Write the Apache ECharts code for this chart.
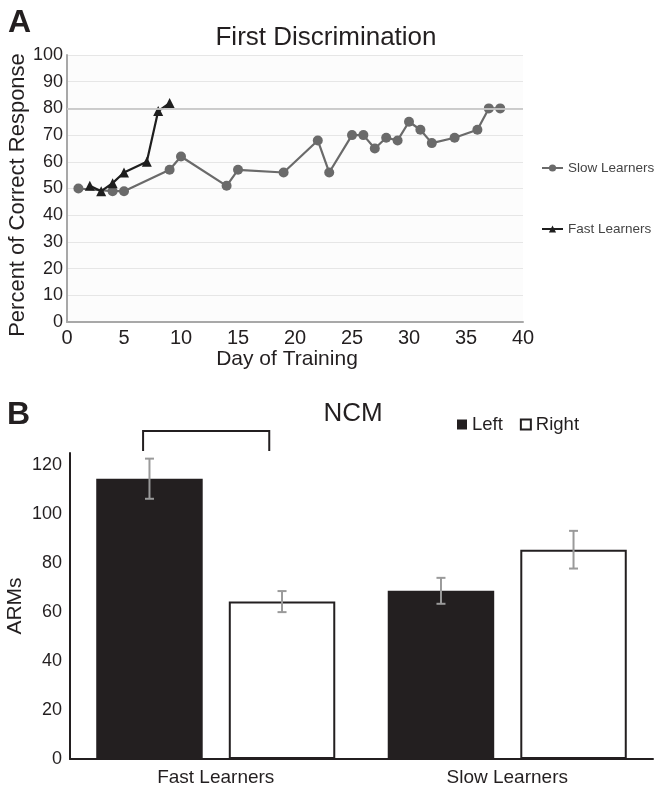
<!DOCTYPE html>
<html>
<head>
<meta charset="UTF-8">
<title>First Discrimination / NCM</title>
<script src="https://cdn.jsdelivr.net/npm/echarts@6/dist/echarts.min.js"></script>
<style>
  html, body { margin: 0; padding: 0; background: #fff; }
  #main { width: 658px; height: 791px; }
</style>
</head>
<body>
<div id="main"></div>
<script>
// panel A: percent correct per training day
var slowDays = [1, 4, 5, 9, 10, 14, 15, 19, 22, 23, 25, 26, 27, 28, 29, 30, 31, 32, 34, 36, 37, 38];
var slowPct  = [50, 49, 49, 57, 62, 51, 57, 56, 68, 56, 70, 70, 65, 69, 68, 75, 72, 67, 69, 72, 80, 80];
var fastDays = [2, 3, 4, 5, 7, 8, 9];
var fastPct  = [51, 49, 52, 56, 60, 79, 82];
var criterion = 80;

// panel B: NCM ARMs, mean and error
var groups    = ['Fast Learners', 'Slow Learners'];
var leftMean  = [114.5, 68.7];
var leftErr   = [8.2, 5.3];
var rightMean = [64.3, 85.5];
var rightErr  = [4.3, 7.7];

var FONT = '"Liberation Sans", Arial, sans-serif';
var CAT_GAP = 0.18, BAR_GAP = 0.245;

function pairs(xs, ys) {
  var out = [];
  for (var i = 0; i < xs.length; i++) out.push([xs[i], ys[i]]);
  return out;
}

// error bar data: [category, low, high, side(-1 left / +1 right)]
var errData = [];
for (var i = 0; i < groups.length; i++) {
  errData.push([i, leftMean[i] - leftErr[i], leftMean[i] + leftErr[i], -1]);
  errData.push([i, rightMean[i] - rightErr[i], rightMean[i] + rightErr[i], 1]);
}

function barGeom(api) {
  var band = api.size([1, 0])[0];
  var bw = band * (1 - CAT_GAP) / (2 + BAR_GAP);
  return { bw: bw, off: bw * (1 + BAR_GAP) / 2 };
}

var myChart = echarts.init(document.getElementById('main'));
myChart.setOption({
  animation: false,
  textStyle: { fontFamily: FONT },
  title: [
    { text: 'A', left: 3, top: 2, textStyle: { fontSize: 32, fontWeight: 'bold', color: '#231f20', fontFamily: FONT } },
    { text: 'First Discrimination', left: 321, textAlign: 'center', top: 20, textStyle: { fontSize: 26, fontWeight: 'normal', color: '#231f20', fontFamily: FONT } },
    { text: 'B', left: 2, top: 394, textStyle: { fontSize: 32, fontWeight: 'bold', color: '#231f20', fontFamily: FONT } },
    { text: 'NCM', left: 348, textAlign: 'center', top: 396, textStyle: { fontSize: 26, fontWeight: 'normal', color: '#231f20', fontFamily: FONT } }
  ],
  legend: [
    {
      data: ['Slow Learners', 'Fast Learners'],
      orient: 'vertical', left: 541, top: 161, itemGap: 47, padding: 0,
      itemWidth: 21, itemHeight: 9,
      textStyle: { fontSize: 13.5, color: '#444', fontFamily: FONT }
    },
    {
      data: [{ name: 'Left', icon: 'rect' }, { name: 'Right', icon: 'rect' }],
      left: 457, top: 415, itemGap: 17, padding: 0,
      itemWidth: 10, itemHeight: 10,
      textStyle: { fontSize: 18.5, color: '#231f20', fontFamily: FONT }
    }
  ],
  grid: [
    { left: 67, right: 135, top: 55, bottom: 469, show: true, backgroundColor: '#fcfcfc', borderWidth: 0, outerBoundsMode: 'none', containLabel: false },
    { left: 70, right: 5, top: 453, bottom: 32, outerBoundsMode: 'none', containLabel: false }
  ],
  xAxis: [
    {
      gridIndex: 0, type: 'value', min: 0, max: 40, interval: 5,
      name: 'Day of Training', nameLocation: 'middle', nameGap: 24,
      nameTextStyle: { fontSize: 21, color: '#231f20', fontFamily: FONT, padding: [0, 16, 0, 0] },
      axisLine: { lineStyle: { color: '#a8a8a8', width: 2 } },
      axisTick: { show: false },
      axisLabel: { fontSize: 20, color: '#231f20', margin: 6 },
      splitLine: { show: false }
    },
    {
      gridIndex: 1, type: 'category', data: groups,
      axisLine: { lineStyle: { color: '#231f20', width: 2 } },
      axisTick: { show: false },
      axisLabel: { fontSize: 19, color: '#231f20', margin: 9 }
    }
  ],
  yAxis: [
    {
      gridIndex: 0, type: 'value', min: 0, max: 100, interval: 10,
      name: 'Percent of Correct Response', nameLocation: 'middle', nameGap: 38, nameMoveOverlap: false,
      nameTextStyle: { fontSize: 22, color: '#231f20', fontFamily: FONT, padding: [0, 13, 0, 0] },
      axisLine: { show: true, lineStyle: { color: '#a8a8a8', width: 2 } },
      axisTick: { show: false },
      axisLabel: { fontSize: 18, color: '#231f20', margin: 4 },
      splitLine: { lineStyle: { color: '#e6e6e6', width: 1 } }
    },
    {
      gridIndex: 1, type: 'value', min: 0, max: 125, interval: 20,
      name: 'ARMs', nameLocation: 'middle', nameGap: 44, nameMoveOverlap: false,
      nameTextStyle: { fontSize: 21, color: '#231f20', fontFamily: FONT },
      axisLine: { show: true, lineStyle: { color: '#231f20', width: 2 } },
      axisTick: { show: false },
      axisLabel: { fontSize: 18, color: '#231f20', margin: 8, showMaxLabel: false },
      splitLine: { show: false }
    }
  ],
  series: [
    {
      name: 'Slow Learners', type: 'line', xAxisIndex: 0, yAxisIndex: 0,
      data: pairs(slowDays, slowPct),
      symbol: 'circle', symbolSize: 10,
      lineStyle: { color: '#6a6a6a', width: 2.2 },
      itemStyle: { color: '#6a6a6a' },
      z: 3
    },
    {
      name: 'Fast Learners', type: 'line', xAxisIndex: 0, yAxisIndex: 0,
      data: pairs(fastDays, fastPct),
      symbol: 'triangle', symbolSize: 10,
      lineStyle: { color: '#1e1e1e', width: 2.2 },
      itemStyle: { color: '#1e1e1e' },
      z: 4
    },
    {
      // criterion line drawn over the markers
      name: 'criterion', type: 'line', xAxisIndex: 0, yAxisIndex: 0,
      data: [], z: 10, silent: true,
      markLine: {
        silent: true, symbol: 'none', label: { show: false },
        lineStyle: { color: '#c8c8c8', width: 2, type: 'solid', opacity: 0.9 },
        data: [{ yAxis: criterion }]
      }
    },
    {
      name: 'Left', type: 'bar', xAxisIndex: 1, yAxisIndex: 1,
      data: leftMean,
      barGap: (BAR_GAP * 100) + '%', barCategoryGap: (CAT_GAP * 100) + '%',
      itemStyle: { color: '#231f20' }
    },
    {
      name: 'Right', type: 'bar', xAxisIndex: 1, yAxisIndex: 1,
      data: rightMean,
      itemStyle: { color: '#ffffff', borderColor: '#231f20', borderWidth: 2 }
    },
    {
      type: 'custom', xAxisIndex: 1, yAxisIndex: 1,
      data: errData, z: 5, silent: true,
      renderItem: function (params, api) {
        var g = barGeom(api);
        var lo = api.coord([api.value(0), api.value(1)]);
        var hi = api.coord([api.value(0), api.value(2)]);
        var x = lo[0] + api.value(3) * g.off;
        var cap = 4.5;
        var st = { stroke: '#9a9a9a', lineWidth: 2 };
        return {
          type: 'group',
          children: [
            { type: 'line', shape: { x1: x, y1: lo[1], x2: x, y2: hi[1] }, style: st },
            { type: 'line', shape: { x1: x - cap, y1: lo[1], x2: x + cap, y2: lo[1] }, style: st },
            { type: 'line', shape: { x1: x - cap, y1: hi[1], x2: x + cap, y2: hi[1] }, style: st }
          ]
        };
      }
    },
    {
      // significance bracket over the Fast Learners pair
      type: 'custom', xAxisIndex: 1, yAxisIndex: 1,
      data: [[0, 134, 125.8]], clip: false, silent: true, z: 5,
      renderItem: function (params, api) {
        var g = barGeom(api);
        var top = api.coord([api.value(0), api.value(1)]);
        var bot = api.coord([api.value(0), api.value(2)]);
        var x1 = top[0] - g.off - 0.06 * g.bw;
        var x2 = top[0] + g.off - 0.12 * g.bw;
        return {
          type: 'polyline',
          shape: { points: [[x1, bot[1]], [x1, top[1]], [x2, top[1]], [x2, bot[1]]] },
          style: { stroke: '#231f20', lineWidth: 2, fill: null }
        };
      }
    }
  ]
});
</script>
</body>
</html>
